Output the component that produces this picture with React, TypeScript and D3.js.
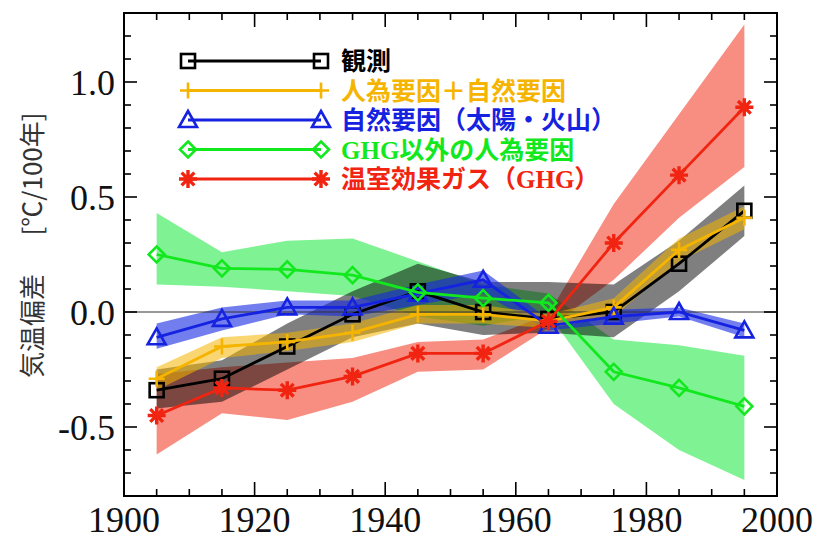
import React from "react";
import * as d3 from "d3";

// decade centres
const years = [1905, 1915, 1925, 1935, 1945, 1955, 1965, 1975, 1985, 1995];

// 観測
const obs = [-0.34, -0.29, -0.15, -0.01, 0.09, 0.0, -0.03, 0.0, 0.21, 0.44];
const obsLo = [-0.42, -0.39, -0.25, -0.11, -0.05, -0.1, -0.09, -0.11, 0.09, 0.33];
const obsHi = [-0.25, -0.21, -0.05, 0.09, 0.21, 0.13, 0.13, 0.12, 0.31, 0.55];

// 人為要因＋自然要因
const anth = [-0.29, -0.15, -0.13, -0.09, -0.01, -0.01, -0.04, 0.02, 0.27, 0.41];
const anthLo = [-0.34, -0.2, -0.17, -0.13, -0.05, -0.05, -0.07, -0.02, 0.22, 0.36];
const anthHi = [-0.24, -0.11, -0.09, -0.05, 0.03, 0.03, -0.01, 0.06, 0.32, 0.46];

// 自然要因（太陽・火山）
const nat = [-0.11, -0.03, 0.02, 0.02, 0.08, 0.14, -0.06, -0.02, 0.0, -0.08];
const natLo = [-0.16, -0.08, -0.01, -0.02, 0.03, 0.08, -0.08, -0.05, -0.02, -0.11];
const natHi = [-0.05, 0.02, 0.05, 0.05, 0.12, 0.18, -0.03, 0.01, 0.02, -0.05];

// GHG以外の人為要因
const other = [0.25, 0.19, 0.185, 0.16, 0.085, 0.06, 0.04, -0.26, -0.33, -0.41];
const otherLo = [0.12, 0.11, 0.09, 0.07, -0.02, -0.06, -0.01, -0.4, -0.6, -0.73];
const otherHi = [0.43, 0.26, 0.31, 0.32, 0.22, 0.12, 0.08, -0.12, -0.145, -0.19];

// 温室効果ガス（GHG）
const ghg = [-0.45, -0.33, -0.34, -0.28, -0.18, -0.18, -0.04, 0.3, 0.595, 0.89];
const ghgLo = [-0.62, -0.44, -0.47, -0.39, -0.26, -0.25, -0.07, 0.14, 0.41, 0.63];
const ghgHi = [-0.27, -0.24, -0.22, -0.2, -0.13, -0.12, -0.01, 0.47, 0.86, 1.25];

const xLabels = [1900, 1920, 1940, 1960, 1980, 2000];
const yLabels = [-0.5, 0.0, 0.5, 1.0];

const x = d3.scaleLinear().domain([1900, 2000]).range([124, 777]);
const y = d3.scaleLinear().domain([-0.8, 1.3]).range([496, 13]);

type Mk = "square" | "plus" | "tri" | "diamond" | "star";

const series = [
  { key: "obs", v: obs, lo: obsLo, hi: obsHi, color: "#000000", band: "rgba(0,0,0,0.5)", mk: "square" as Mk },
  { key: "anth", v: anth, lo: anthLo, hi: anthHi, color: "#f5b400", band: "rgba(245,180,0,0.55)", mk: "plus" as Mk },
  { key: "nat", v: nat, lo: natLo, hi: natHi, color: "#1522e0", band: "rgba(20,40,225,0.6)", mk: "tri" as Mk },
  { key: "other", v: other, lo: otherLo, hi: otherHi, color: "#12e81e", band: "rgba(0,230,40,0.5)", mk: "diamond" as Mk },
  { key: "ghg", v: ghg, lo: ghgLo, hi: ghgHi, color: "#f02410", band: "rgba(240,50,25,0.55)", mk: "star" as Mk },
];
const bandOrder = ["other", "ghg", "obs", "nat", "anth"];

const marker = (mk: Mk, cx: number, cy: number, color: string, k: string) => {
  const sw = 2.6;
  if (mk === "square")
    return <rect key={k} x={cx - 7} y={cy - 7} width={14} height={14} fill="none" stroke={color} strokeWidth={sw} />;
  if (mk === "plus")
    return (
      <path key={k} d={`M${cx},${cy - 8}V${cy + 8}M${cx - 8},${cy}H${cx + 8}`} stroke={color} strokeWidth={sw} />
    );
  if (mk === "tri")
    return (
      <path key={k} d={`M${cx},${cy - 9}L${cx + 9},${cy + 7}L${cx - 9},${cy + 7}Z`} fill="none" stroke={color} strokeWidth={sw} />
    );
  if (mk === "diamond")
    return (
      <path key={k} d={`M${cx},${cy - 8}L${cx + 8},${cy}L${cx},${cy + 8}L${cx - 8},${cy}Z`} fill="none" stroke={color} strokeWidth={sw} />
    );
  const r = 9;
  const d = d3
    .range(4)
    .map((i) => {
      const a = (i * Math.PI) / 4;
      const dx = r * Math.cos(a), dy = r * Math.sin(a);
      return `M${cx - dx},${cy - dy}L${cx + dx},${cy + dy}`;
    })
    .join("");
  return <path key={k} d={d} stroke={color} strokeWidth={3.4} />;
};

const legend = [
  { mk: "square" as Mk, color: "#000000", parts: [{ t: "観測" }] },
  { mk: "plus" as Mk, color: "#f5b400", parts: [{ t: "人為要因＋自然要因" }] },
  { mk: "tri" as Mk, color: "#1522e0", parts: [{ t: "自然要因（太陽・火山）" }] },
  { mk: "diamond" as Mk, color: "#12e81e", parts: [{ t: "GHG", serif: true }, { t: "以外の人為要因" }] },
  { mk: "star" as Mk, color: "#f02410", parts: [{ t: "温室効果ガス（" }, { t: "GHG", serif: true }, { t: "）" }] },
];

export default function App() {
  const line = d3
    .line<number>()
    .x((_, i) => x(years[i]))
    .y((d) => y(d));
  const area = (lo: number[], hi: number[]) =>
    d3
      .area<number>()
      .x((_, i) => x(years[i]))
      .y0((_, i) => y(lo[i]))
      .y1((d) => y(d))(hi) as string;

  const xt = d3.range(1905, 2000, 5);
  const yt = d3.range(-7, 13).map((v) => v / 10);
  const fmt = (t: number) => d3.format(".1f")(t).replace("−", "-");

  return (
    <svg width={817} height={536} style={{ position: "absolute", left: 0, top: 0, background: "#fff" }}>
      {bandOrder.map((k) => {
        const s = series.find((d) => d.key === k)!;
        return <path key={k} d={area(s.lo, s.hi)} fill={s.band} stroke="none" />;
      })}
      <line x1={124} x2={777} y1={y(0)} y2={y(0)} stroke="#333" strokeWidth={1.2} />
      {series.map((s) => (
        <g key={s.key}>
          <path d={line(s.v) as string} fill="none" stroke={s.color} strokeWidth={2.8} />
          {s.v.map((d, i) => marker(s.mk, x(years[i]), y(d), s.color, s.key + i))}
        </g>
      ))}

      {/* frame and ticks */}
      <rect x={124} y={13} width={653} height={483} fill="none" stroke="#000" strokeWidth={2} />
      {xt.map((t) => {
        const len = t % 20 === 0 ? 14 : 7;
        return (
          <g key={"xt" + t} stroke="#000" strokeWidth={1.6}>
            <line x1={x(t)} x2={x(t)} y1={496} y2={496 - len} />
            <line x1={x(t)} x2={x(t)} y1={13} y2={13 + len} />
          </g>
        );
      })}
      {yt.map((t) => {
        const len = Math.abs(Math.round(t * 10)) % 5 === 0 ? 13 : 7;
        return (
          <g key={"yt" + t} stroke="#000" strokeWidth={1.6}>
            <line x1={124} x2={124 + len} y1={y(t)} y2={y(t)} />
            <line x1={777} x2={777 - len} y1={y(t)} y2={y(t)} />
          </g>
        );
      })}
      {xLabels.map((t) => (
        <text key={"xl" + t} x={x(t)} y={532} textAnchor="middle" fontFamily="Liberation Serif" fontSize={36} fill="#111">
          {t}
        </text>
      ))}
      {yLabels.map((t) => (
        <text key={"yl" + t} x={115} y={y(t) + 12.5} textAnchor="end" fontFamily="Liberation Serif" fontSize={36} fill="#111">
          {fmt(t)}
        </text>
      ))}

      {/* axis title */}
      <text transform="translate(42,326) rotate(-90)" textAnchor="middle" fontFamily="Noto Sans CJK JP" fontSize={26} fill="#333">
        気温偏差
      </text>
      <text transform="translate(42,174) rotate(-90)" textAnchor="middle" fontFamily="Noto Sans CJK JP" fontSize={26} fill="#333">
        [℃/100年]
      </text>

      {/* legend */}
      {legend.map((l, i) => {
        const cy = 61 + i * 29.5;
        return (
          <g key={"lg" + i}>
            <line x1={188} x2={321} y1={cy} y2={cy} stroke={l.color} strokeWidth={2.8} />
            {marker(l.mk, 188, cy, l.color, "a")}
            {marker(l.mk, 321, cy, l.color, "b")}
            <text x={341} y={cy + 9} fontFamily="Noto Sans CJK JP" fontWeight="bold" fontSize={25} fill={l.color}>
              {l.parts.map((p, j) => (
                <tspan key={j} fontFamily={p.serif ? "Liberation Serif" : "Noto Sans CJK JP"}>
                  {p.t}
                </tspan>
              ))}
            </text>
          </g>
        );
      })}
    </svg>
  );
}
